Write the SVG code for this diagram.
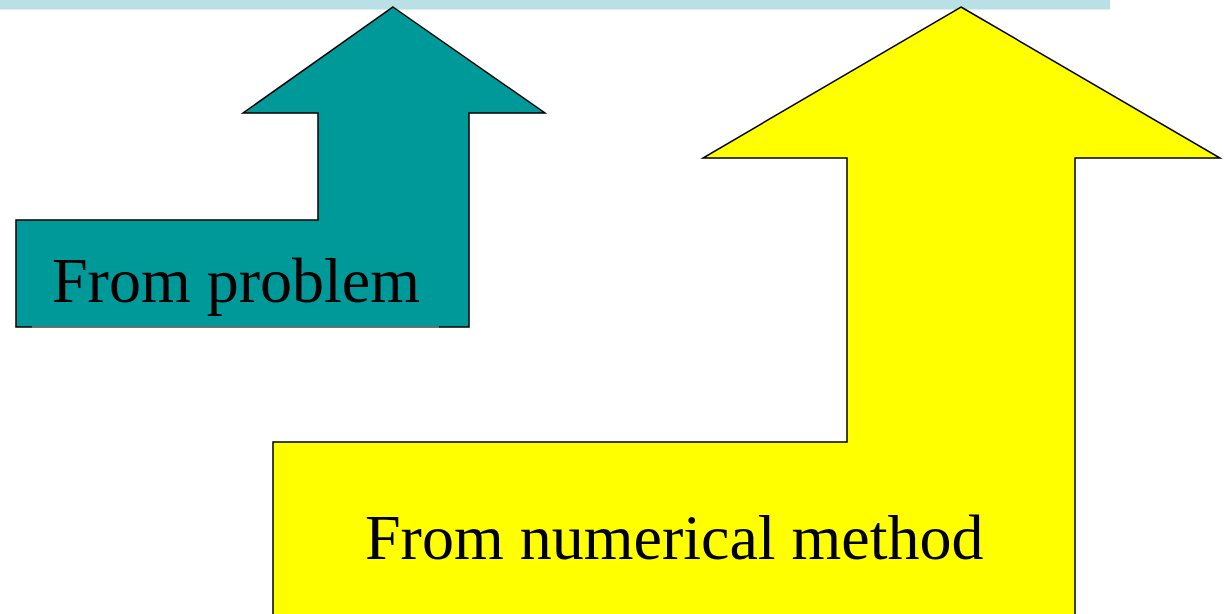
<svg xmlns="http://www.w3.org/2000/svg" width="1225" height="614" viewBox="0 0 1225 614">
  <style>
    .arrow { stroke: #000; stroke-width: 1.5; stroke-linejoin: miter; }
    .label { font-family: "Liberation Serif", "Times New Roman", serif; font-size: 64px; fill: #000; }
  </style>
  <rect id="top-bar" x="0" y="0" width="1110" height="9.5" fill="#b9e0e5"/>
  <g id="node-problem">
    <polygon class="arrow" fill="#009999" points="393,7 545,113 469,113 469,327 16,327 16,220 318,220 318,113 243,113"/>
    <line x1="32" y1="327" x2="439" y2="327" stroke="#7a8a8a" stroke-width="1.5"/>
    <text class="label" x="52" y="302">From problem</text>
  </g>
  <g id="node-numerical">
    <polygon class="arrow" fill="#ffff00" points="961,7 1220,158 1075,158 1075,620 273,620 273,442 847,442 847,158 703,158"/>
    <text class="label" x="365" y="559">From numerical method</text>
  </g>
  <g id="connectors"/>
</svg>
